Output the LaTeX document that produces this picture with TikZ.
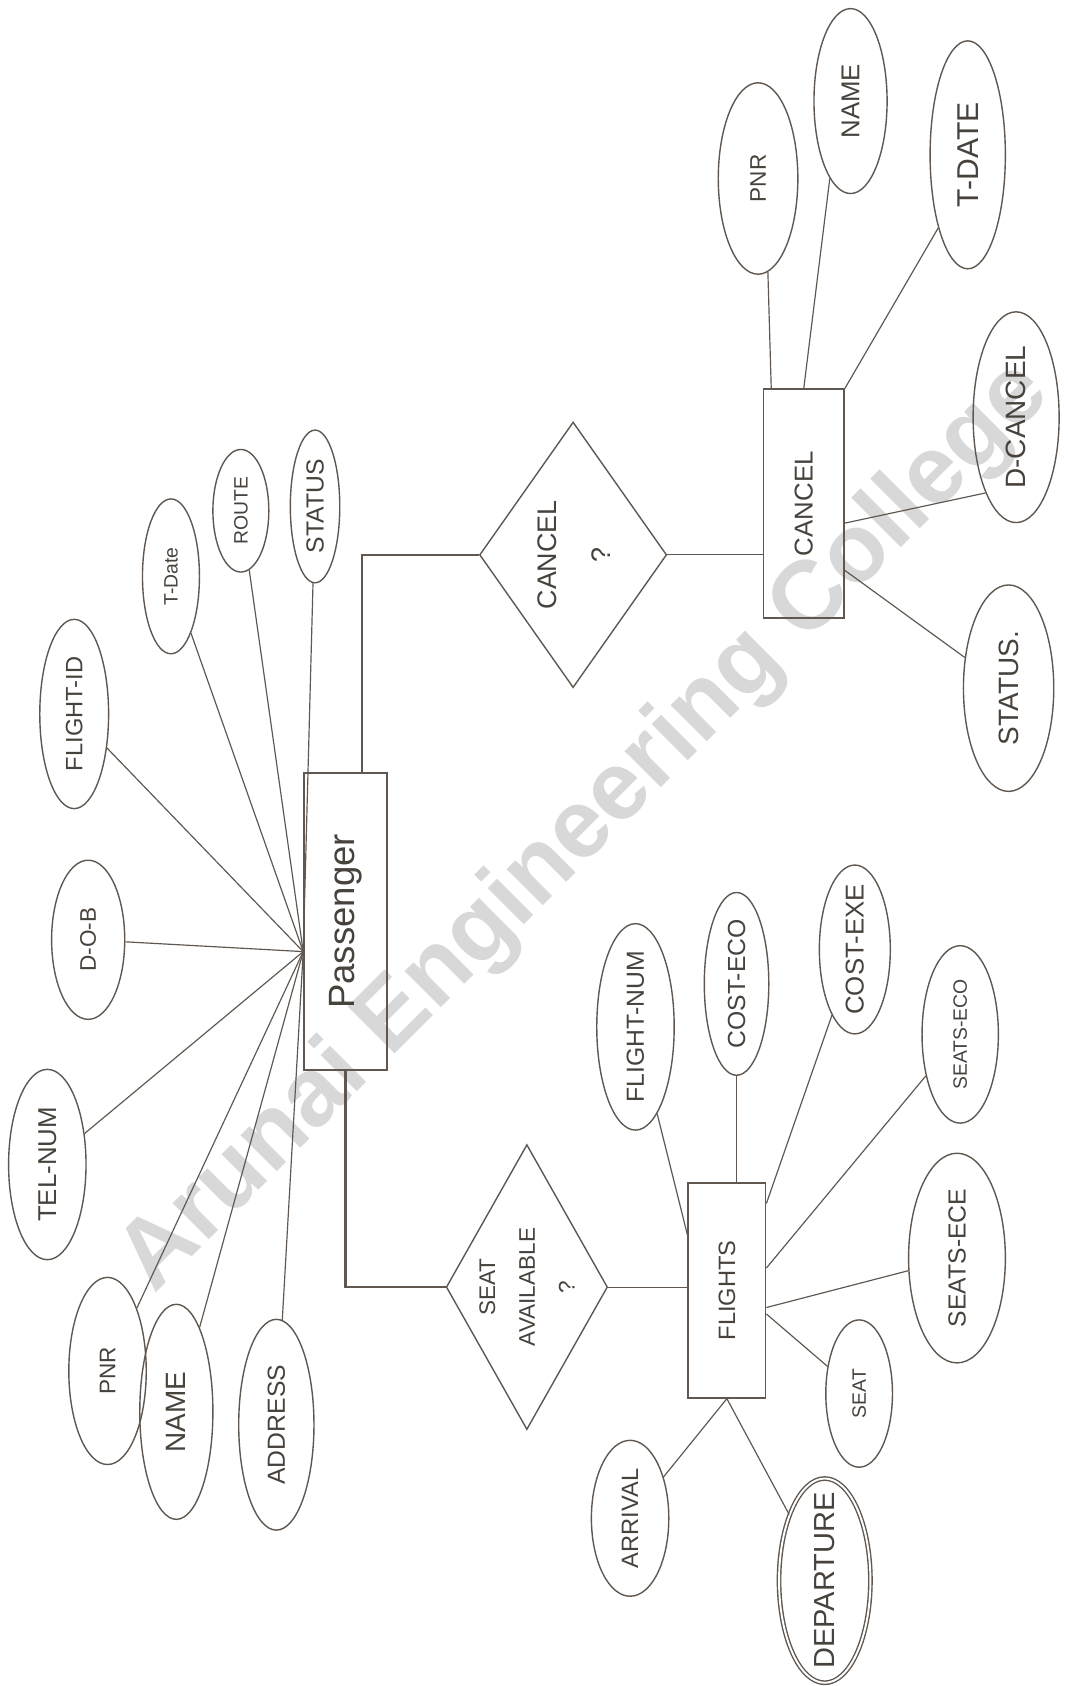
\documentclass[tikz,border=0pt]{standalone}
\usepackage{fontspec}
\setmainfont{Liberation Sans}
\usetikzlibrary{shapes.geometric}
\definecolor{ink}{RGB}{96,88,80}
\definecolor{inkt}{RGB}{72,66,60}
\definecolor{wm}{RGB}{216,216,216}
\newcommand\vtext[1]{\rotatebox{90}{#1}}
\newcommand\tsz[1]{\fontsize{#1}{#1}\selectfont}
\tikzset{
  attr/.style={ellipse, draw=ink, line width=1.3pt},
  ent/.style={rectangle, draw=ink, line width=1.5pt},
  rel/.style={diamond, draw=ink, line width=1.3pt},
  sz/.style 2 args={minimum width=#1pt, minimum height=#2pt},
  lblnode/.style={text=inkt, inner sep=0pt, font=\tsz{22}},
  lab/.style={label={[lblnode]center:\vtext{#1}}},
  link/.style={draw=ink, line width=1.1pt},
  elbow/.style={draw=ink, line width=2.4pt},
}
\begin{document}
\begin{tikzpicture}[x=1pt,y=-1pt]
\fill[white] (0,0) rectangle (993,1568);
\useasboundingbox (0,0) rectangle (993,1568);

% watermark (behind the drawing)
\node[font=\bfseries\tsz{90}, text=wm, rotate=45, inner sep=0pt] (wmark) at (545,770) {Arunai Engineering College};

% entities
\node[ent, sz={77}{276}, lab={\tsz{34}Passenger}] (pass) at (321.5,857) {};
\node[ent, sz={75}{213}, lab={\tsz{24}CANCEL}] (cancel) at (747.5,468.5) {};
\node[ent, sz={72}{200}, lab={\tsz{22}FLIGHTS}] (flights) at (676,1200) {};

% relationships
\node[rel, sz={174}{247}, lab={\fontsize{25}{50}\selectfont\begin{tabular}{@{}c@{}}CANCEL\\?\end{tabular}}] (cq) at (533,516) {};
\node[rel, sz={150}{265}, lab={\fontsize{21}{37}\selectfont\begin{tabular}{@{}c@{}}SEAT\\AVAILABLE\\?\end{tabular}}] (sa) at (490,1197) {};

% passenger attributes
\node[attr, sz={64}{176}, lab={\tsz{22}FLIGHT-ID}] (pfid) at (69,664) {};
\node[attr, sz={53}{144}, lab={\tsz{18}T-Date}] (ptdate) at (159,536) {};
\node[attr, sz={52}{114}, lab={\tsz{18}ROUTE}] (proute) at (224,475) {};
\node[attr, sz={46}{142}, lab={\tsz{23}STATUS}] (pstatus) at (293,471) {};
\node[attr, sz={68}{148}, lab={\tsz{21}D-O-B}] (pdob) at (82,874) {};
\node[attr, sz={72}{177}, lab={\tsz{24}TEL-NUM}] (ptel) at (44,1083) {};
\node[attr, sz={72}{174}, lab={\tsz{21}PNR}] (ppnr) at (100,1275) {};
\node[attr, sz={68}{200}, lab={\tsz{26}NAME}] (pname) at (164,1313) {};
\node[attr, sz={70}{196}, lab={\tsz{23}ADDRESS}] (paddr) at (257,1325) {};

% cancel attributes
\node[attr, sz={74}{178}, lab={\tsz{21}PNR}] (cpnr) at (705,166) {};
\node[attr, sz={68}{172}, lab={\tsz{24}NAME}] (cname) at (791,94) {};
\node[attr, sz={70}{212}, lab={\tsz{28}T-DATE}] (ctdate) at (900,144) {};
\node[attr, sz={80}{196}, lab={\tsz{26}D-CANCEL}] (cdcancel) at (945,388) {};
\node[attr, sz={84}{192}, lab={\tsz{26}STATUS.}] (cstatus) at (938,640) {};

% flights attributes
\node[attr, sz={72}{192}, lab={\tsz{23}FLIGHT-NUM}] (fnum) at (591,955) {};
\node[attr, sz={60}{170}, lab={\tsz{23}COST-ECO}] (fceco) at (685,915) {};
\node[attr, sz={66}{157}, lab={\tsz{24}COST-EXE}] (fcexe) at (795,883) {};
\node[attr, sz={71}{165}, lab={\tsz{18}SEATS-ECO}] (fseco) at (893,962) {};
\node[attr, sz={90}{195}, lab={\tsz{23}SEATS-ECE}] (fsece) at (890,1170) {};
\node[attr, sz={62}{137}, lab={\tsz{18}SEAT}] (fseat) at (799,1296) {};
\node[attr, sz={85}{190}, double=white, double distance=1.8pt, lab={\tsz{27}DEPARTURE}] (fdep) at (767,1470) {};
\node[attr, sz={72}{145}, lab={\tsz{22}ARRIVAL}] (farr) at (586,1412) {};

% passenger links
\coordinate (pc) at (282,885);
\foreach \n in {pfid,ptdate,proute,pstatus,pdob,ptel,ppnr,pname,paddr}
  \draw[link] (\n) -- (pc);

% relationship links
\draw[elbow] ([xshift=15pt]pass.north) |- (cq.west);
\draw[elbow] (pass.south) |- (sa.west);
\draw[link] (cq.east) -- (cq.east -| cancel.west);
\draw[link] (sa.east) -- (sa.east -| flights.west);

% cancel links
\draw[link] (cpnr.276) -- ([xshift=8pt]cancel.north west);
\draw[link] (cname.255) -- (cancel.north);
\draw[link] (ctdate.248) -- (cancel.north east);
\draw[link] (cdcancel.248) -- ([yshift=-18pt]cancel.east);
\draw[link] (cstatus.145) -- ([yshift=-62pt]cancel.east);

% flights links
\draw[link] (fnum) -- ([yshift=-49pt]flights.north west);
\draw[link] (fceco) -- (fceco |- flights.north);
\draw[link] (fcexe) -- ([yshift=-20pt]flights.north east);
\draw[link] (fseco) -- ([yshift=-80pt]flights.north east);
\draw[link] (fsece) -- ([yshift=-16pt]flights.east);
\draw[link] (fseat) -- ([yshift=-22pt]flights.east);
\draw[link] (farr) -- (flights.south);
\draw[link] (fdep) -- (flights.south);
\end{tikzpicture}
\end{document}
